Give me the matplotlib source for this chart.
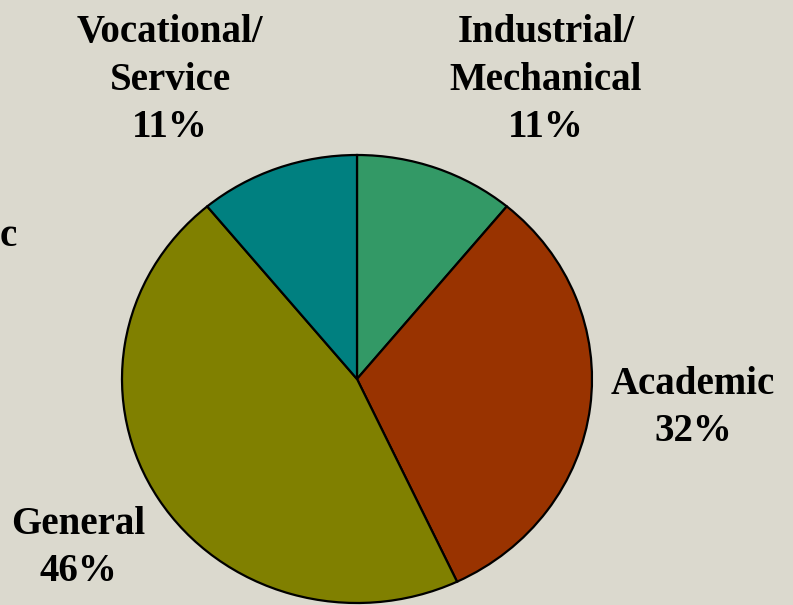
import matplotlib.pyplot as plt

categories = ['Industrial/\nMechanical', 'Academic', 'General', 'Vocational/\nService']
shares = [11, 32, 46, 11]
colors = ['#339966', '#993300', '#808000', '#008080']

W, H = 793, 605
cx, cy = 357, 379      # pie centre in pixels (y from top)
rx, ry = 235, 224      # slightly squashed, as in the reference

fig = plt.figure(figsize=(W/100, H/100), dpi=100, facecolor='#dbd9ce')
ax = fig.add_axes([0, 0, 1, 1])
ax.pie(shares, colors=colors, startangle=90, counterclock=False,
       wedgeprops=dict(edgecolor='black', linewidth=1.6))
ax.set_aspect('auto')
ax.set_xlim(-cx/rx, (W-cx)/rx)
ax.set_ylim(-(H-cy)/ry, cy/ry)
ax.axis('off')

font = dict(family='Liberation Serif', weight='bold', size=28,
            ha='center', va='center', linespacing=1.38)
label_pos = [(546, 80), (693, 408), (78, 548), (170, 80)]
for name, val, (x, y) in zip(categories, shares, label_pos):
    fig.text(x/W, 1 - y/H, f'{name}\n{val}%', **font)

# stray fragment of a cut-off label at the left edge
fig.text(8/W, 1 - 236/H, 'c', **font)

fig.savefig('out.png', facecolor=fig.get_facecolor())
